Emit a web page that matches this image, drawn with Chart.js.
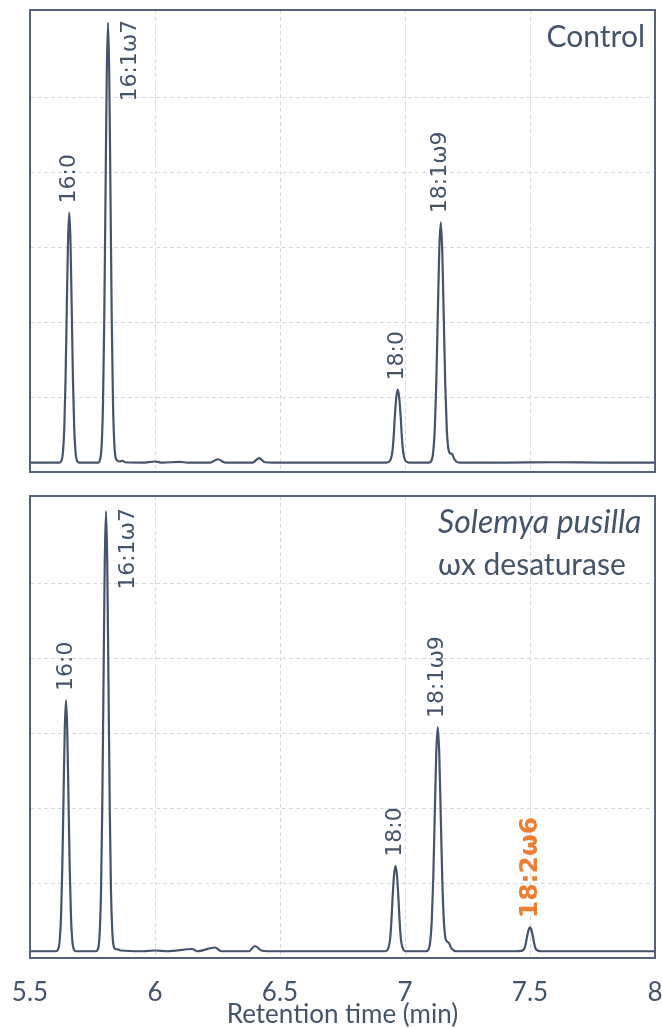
<!DOCTYPE html>
<html>
<head>
<meta charset="utf-8">
<script src="https://cdn.jsdelivr.net/npm/chart.js@4/dist/chart.umd.min.js"></script>
<style>
  html, body { margin: 0; padding: 0; background: #fff; }
  #wrap { position: relative; width: 662px; height: 1028px; }
  #wrap canvas { position: absolute; left: 0; }
  #topChart { top: 0; }
  #bottomChart { top: 480px; }
</style>
</head>
<body>
<div id="wrap">
  <canvas id="topChart" width="662" height="480"></canvas>
  <canvas id="bottomChart" width="662" height="548"></canvas>
</div>
<script>
// --- data (retention time in min, detector signal in arbitrary units)
const controlTime = [
  5.50, 5.55, 5.60, 5.617, 5.627, 5.632, 5.637, 5.642, 5.647, 5.652, 5.657, 5.662, 5.667, 5.672, 5.677, 5.682, 5.687, 5.697,
  5.73, 5.772, 5.782, 5.787, 5.792, 5.797, 5.802, 5.807, 5.812, 5.817, 5.822, 5.827, 5.832, 5.837, 5.842, 5.850, 5.860, 5.870, 5.880,
  5.95, 6.00, 6.03, 6.10, 6.13, 6.22, 6.252, 6.28, 6.39, 6.416, 6.44, 6.47, 6.60, 6.80,
  6.926, 6.937, 6.943, 6.949, 6.954, 6.959, 6.965, 6.971, 6.977, 6.983, 6.988, 6.993, 6.999, 7.005, 7.016,
  7.05, 7.095, 7.107, 7.113, 7.119, 7.125, 7.131, 7.137, 7.143, 7.149, 7.155, 7.161, 7.167, 7.173, 7.180, 7.188, 7.196, 7.205, 7.22,
  7.40, 7.60, 7.80, 8.00
];
const controlSignal = [
  0.125, 0.125, 0.125, 0.125, 0.16, 0.27, 0.57, 1.21, 2.15, 3.07, 3.46, 3.07, 2.15, 1.21, 0.57, 0.27, 0.16, 0.125,
  0.125, 0.125, 0.19, 0.38, 0.92, 2.03, 3.68, 5.29, 5.99, 5.29, 3.68, 2.03, 0.92, 0.40, 0.20, 0.15, 0.14, 0.15, 0.13,
  0.125, 0.14, 0.125, 0.135, 0.125, 0.125, 0.17, 0.125, 0.125, 0.185, 0.13, 0.125, 0.125, 0.125,
  0.125, 0.14, 0.17, 0.26, 0.44, 0.72, 0.99, 1.10, 0.99, 0.72, 0.44, 0.26, 0.17, 0.14, 0.125,
  0.125, 0.125, 0.16, 0.27, 0.56, 1.17, 2.07, 2.95, 3.33, 2.95, 2.07, 1.17, 0.58, 0.32, 0.25, 0.24, 0.18, 0.14, 0.125,
  0.125, 0.13, 0.125, 0.125
];

const desatTime = [
  5.50, 5.55, 5.604, 5.614, 5.619, 5.624, 5.629, 5.634, 5.639, 5.644, 5.649, 5.654, 5.659, 5.664, 5.669, 5.674, 5.684,
  5.72, 5.764, 5.774, 5.779, 5.784, 5.789, 5.794, 5.799, 5.804, 5.809, 5.814, 5.819, 5.824, 5.829, 5.834, 5.842, 5.852, 5.862,
  5.95, 6.00, 6.05, 6.148, 6.17, 6.24, 6.265, 6.375, 6.40, 6.425, 6.45, 6.70, 6.87,
  6.917, 6.928, 6.934, 6.940, 6.945, 6.950, 6.956, 6.962, 6.968, 6.974, 6.979, 6.984, 6.990, 6.996, 7.007,
  7.04, 7.083, 7.095, 7.101, 7.107, 7.113, 7.119, 7.125, 7.131, 7.137, 7.143, 7.149, 7.155, 7.161, 7.168, 7.176, 7.184, 7.195, 7.21,
  7.44, 7.466, 7.472, 7.478, 7.483, 7.488, 7.494, 7.500, 7.506, 7.512, 7.517, 7.522, 7.528, 7.534, 7.545,
  7.70, 8.00
];
const desatSignal = [
  0.09, 0.09, 0.09, 0.13, 0.24, 0.54, 1.18, 2.12, 3.04, 3.44, 3.04, 2.12, 1.18, 0.54, 0.24, 0.13, 0.09,
  0.09, 0.09, 0.15, 0.35, 0.88, 1.99, 3.65, 5.27, 5.96, 5.27, 3.65, 1.99, 0.88, 0.37, 0.17, 0.12, 0.115, 0.10,
  0.09, 0.10, 0.09, 0.12, 0.09, 0.14, 0.09, 0.09, 0.16, 0.10, 0.09, 0.09, 0.09,
  0.09, 0.10, 0.14, 0.24, 0.46, 0.78, 1.10, 1.23, 1.10, 0.78, 0.46, 0.24, 0.14, 0.10, 0.09,
  0.09, 0.09, 0.12, 0.22, 0.49, 1.06, 1.90, 2.73, 3.08, 2.73, 1.90, 1.06, 0.52, 0.28, 0.22, 0.20, 0.14, 0.10, 0.09,
  0.09, 0.095, 0.105, 0.13, 0.19, 0.28, 0.37, 0.41, 0.37, 0.28, 0.19, 0.13, 0.105, 0.095, 0.09,
  0.09, 0.09
];

// peak annotations
const controlPeakNames = ["16:0", "16:1ω7", "18:0", "18:1ω9"];
const controlPeakTimes = [5.657, 5.812, 6.971, 7.143];
const controlPeakTops  = [3.46, 5.99, 1.10, 3.33];

const desatPeakNames = ["16:0", "16:1ω7", "18:0", "18:1ω9", "18:2ω6"];
const desatPeakTimes = [5.644, 5.804, 6.962, 7.131, 7.500];
const desatPeakTops  = [3.44, 5.96, 1.23, 3.08, 0.41];

const xTickLabels = ["5.5", "6", "6.5", "7", "7.5", "8"];

const INK = "#44546A";
const ORANGE = "#ED7D31";
const GRID = "#d3d8e2";

// --- plugins
const panelFrame = {
  id: "panelFrame",
  afterDraw(chart) {
    const { ctx, chartArea: a } = chart;
    ctx.save();
    ctx.strokeStyle = "#56627a";
    ctx.lineWidth = 2;
    ctx.strokeRect(a.left, a.top, a.right - a.left, a.bottom - a.top);
    ctx.restore();
  }
};

const peakLabels = {
  id: "peakLabels",
  afterDatasetsDraw(chart, args, opts) {
    if (!opts.names) return;
    const { ctx, scales: { x, y } } = chart;
    opts.names.forEach((name, i) => {
      const px = x.getPixelForValue(opts.times[i]);
      const py = y.getPixelForValue(opts.tops[i]);
      const hot = i === opts.highlight;
      ctx.save();
      ctx.fillStyle = hot ? ORANGE : INK;
      ctx.font = hot ? "bold 25px 'DejaVu Sans'" : "22px 'DejaVu Sans'";
      ctx.textBaseline = "middle";
      if (opts.side[i] === "right") {
        // label sits beside the peak, its end level with the apex
        ctx.translate(px + 22, py - 3);
        ctx.rotate(-Math.PI / 2);
        ctx.textAlign = "right";
      } else {
        ctx.translate(px, py - 9);
        ctx.rotate(-Math.PI / 2);
        ctx.textAlign = "left";
      }
      ctx.fillText(name, 0, 0);
      ctx.restore();
    });
  }
};

const panelCaption = {
  id: "panelCaption",
  afterDraw(chart, args, opts) {
    if (!opts.lines) return;
    const { ctx } = chart;
    ctx.save();
    ctx.fillStyle = INK;
    ctx.textBaseline = "alphabetic";
    opts.lines.forEach(l => {
      ctx.font = l.font;
      ctx.textAlign = l.align;
      ctx.fillText(l.text, l.x, l.y);
    });
    ctx.restore();
  }
};

Chart.register(panelFrame, peakLabels, panelCaption);

// --- shared builder
function buildPanel(canvas, time, signal, labels, extra) {
  const points = time.map((t, i) => ({ x: t, y: signal[i] }));
  return new Chart(canvas, {
    type: "line",
    data: {
      datasets: [{
        data: points,
        borderColor: INK,
        borderWidth: 2.2,
        pointRadius: 0,
        fill: false,
        cubicInterpolationMode: "monotone"
      }]
    },
    options: {
      responsive: false,
      animation: false,
      events: [],
      layout: { padding: { top: extra.padTop, right: 7, left: 0, bottom: 0 } },
      scales: {
        x: {
          type: "linear",
          min: 5.5,
          max: 8,
          afterFit: s => {
            s.height = extra.xHeight;
            // keep the plot box fixed; edge labels may hang over
            s.paddingLeft = 0;
            s.paddingRight = 0;
          },
          grid: { color: GRID, lineWidth: 1, drawTicks: false },
          border: { display: false, dash: [4, 3] },
          ticks: {
            display: extra.showTicks,
            stepSize: 0.5,
            padding: 19,
            color: INK,
            font: { family: "Lato", size: 26 },
            maxRotation: 0,
            autoSkip: false,
            callback: (v, i) => xTickLabels[i]
          },
          title: {
            display: extra.showTicks,
            text: "Retention time (min)",
            color: INK,
            font: { family: "Lato", size: 26, lineHeight: 1 },
            padding: { top: 0, bottom: 0 }
          }
        },
        y: {
          min: 0,
          max: 6.16,
          afterFit: s => { s.width = 30; },
          grid: { color: GRID, lineWidth: 1, drawTicks: false },
          border: { display: false, dash: [4, 3] },
          ticks: { display: false, stepSize: 1 }
        }
      },
      plugins: {
        legend: { display: false },
        tooltip: { enabled: false },
        peakLabels: labels,
        panelCaption: { lines: extra.caption }
      }
    }
  });
}

buildPanel(
  document.getElementById("topChart"),
  controlTime, controlSignal,
  {
    names: controlPeakNames, times: controlPeakTimes, tops: controlPeakTops,
    side: ["above", "right", "above", "above"], highlight: -1
  },
  {
    padTop: 10, xHeight: 8, showTicks: false,
    caption: [{ text: "Control", x: 645, y: 47, align: "right", font: "30px Lato" }]
  }
);

buildPanel(
  document.getElementById("bottomChart"),
  desatTime, desatSignal,
  {
    names: desatPeakNames, times: desatPeakTimes, tops: desatPeakTops,
    side: ["above", "right", "above", "above", "above"], highlight: 4
  },
  {
    padTop: 16, xHeight: 70, showTicks: true,
    caption: [
      { text: "Solemya pusilla", x: 438, y: 53, align: "left", font: "italic 32px Lato" },
      { text: "ωx desaturase", x: 438, y: 95, align: "left", font: "30px Lato" }
    ]
  }
);
</script>
</body>
</html>
